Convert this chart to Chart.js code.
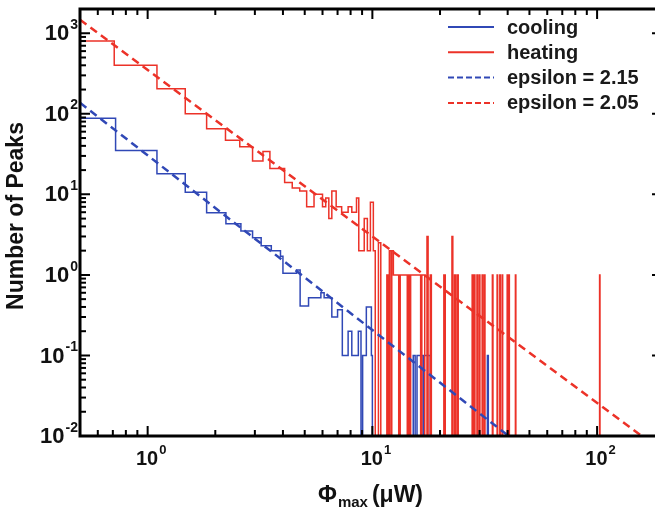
<!DOCTYPE html>
<html>
<head>
<meta charset="utf-8">
<script src="https://cdn.jsdelivr.net/npm/chart.js@4/dist/chart.umd.min.js"></script>
<style>
  body { margin: 0; background: #fff; }
  canvas { display: block; }
</style>
</head>
<body>
<canvas id="chart" width="655" height="511"></canvas>
<script>
// histogram steps: left edge of each step and its height (0 = empty bin)
const heatingX = [0.5, 0.71, 1.10, 1.47, 1.83, 2.22, 2.57, 2.93, 3.26, 3.5, 4.07, 4.4, 4.75, 5.1, 5.5, 6.0, 6.2, 6.4, 6.6, 6.9,
  7.3, 7.8, 8.1, 8.5, 8.7, 9.2, 9.5, 9.8, 10.1, 10.3, 10.64, 10.9, 11.6, 11.75, 11.9, 12.1, 12.2, 12.4, 13.1, 13.3,
  14.3, 14.45, 14.6, 14.8, 16.4, 16.6, 17.1, 17.5, 17.7, 18.1, 18.3, 20.8, 21.1, 22.6, 22.8, 23.2, 23.4, 23.8, 24.1,
  27.8, 28.0, 28.4, 28.6, 29.2, 29.4, 29.9, 30.1, 30.8, 31.0, 31.5, 31.7, 34.2, 34.4, 35.9, 36.1, 36.9, 37.1,
  37.8, 38.0, 39.8, 40.0, 40.5, 40.7, 43.3, 43.5, 102.6, 103, 200];
const heatingY = [800, 400, 205, 100, 65, 47, 39, 26, 34, 21, 14, 12, 11, 7, 10, 7, 9, 5, 11, 7,
  6, 7, 6, 9, 2, 5, 2, 8, 2, 0, 2.5, 0, 1, 0, 2, 0, 2, 1, 0, 1,
  0, 1, 0, 1, 0, 1, 0, 3, 0, 1, 0, 1, 0, 3, 0, 1, 0, 1, 0,
  1, 0, 1, 0, 1, 0, 1, 0, 1, 0, 1, 0, 1, 0, 1, 0, 1, 0,
  1, 0, 1, 0, 1, 0, 1, 0, 1, 0, 0];

const coolingX = [0.5, 0.72, 1.1, 1.47, 1.83, 2.23, 2.6, 2.93, 3.2, 3.55, 3.9, 4.0, 4.6, 4.77, 5.2, 5.9, 6.1, 6.6, 7.0,
  7.35, 7.8, 8.1, 8.66, 8.9, 9.05, 9.4, 9.9, 10.0, 15.2, 15.5, 15.8, 16.8, 17.0, 18.1, 32.5, 32.8, 200];
const coolingY = [88, 35, 18, 10.6, 5.9, 4.3, 3.5, 2.9, 2.3, 2.0, 1.7, 1.05, 1.15, 0.41, 0.52, 0.6, 0.52, 0.3, 0.37,
  0.1, 0.2, 0.1, 0.2, 0, 0.1, 0.4, 0.1, 0, 0.1, 0, 0.1, 0, 0.1, 0, 0.1, 0, 0];

// power-law fits, end points
const fitCoolX = [0.5, 40.4];
const fitCoolY = [137, 0.01];
const fitHeatX = [0.5, 158];
const fitHeatY = [1470, 0.01];

const seriesNames = ['cooling', 'heating', 'epsilon = 2.15', 'epsilon = 2.05'];
const xDecades = [0, 1, 2];
const yDecades = [-2, -1, 0, 1, 2, 3];

const X_MIN = 0.5, X_MAX = 181, Y_MIN = 0.01, Y_MAX = 2000;
const BLUE = 'rgb(48,72,182)';
const RED = 'rgb(236,50,40)';
const FONT = '"Liberation Sans", Arial, sans-serif';

const pts = (xs, ys) => xs.map((x, i) => ({ x, y: ys[i] > 0 ? ys[i] : Y_MIN }));

// axes frame, inward ticks, superscript labels, titles and legend
const decor = {
    id: 'decor',
    afterDraw(chart) {
        const { ctx, chartArea: a, scales: { x, y } } = chart;
        ctx.save();
        ctx.strokeStyle = '#000';
        ctx.fillStyle = '#111';

        // ticks
        ctx.lineWidth = 2;
        for (let d = -3; d <= 3; d++) {
            for (let m = 1; m <= 9; m++) {
                const v = m * Math.pow(10, d);
                const len = m === 1 ? 10 : 6;
                if (v >= X_MIN && v <= X_MAX) {
                    const px = x.getPixelForValue(v);
                    ctx.beginPath();
                    ctx.moveTo(px, a.bottom); ctx.lineTo(px, a.bottom - len);
                    ctx.moveTo(px, a.top); ctx.lineTo(px, a.top + len);
                    ctx.stroke();
                }
                if (v >= Y_MIN && v <= Y_MAX) {
                    const py = y.getPixelForValue(v);
                    ctx.beginPath();
                    ctx.moveTo(a.left, py); ctx.lineTo(a.left + len, py);
                    if (m === 1) { ctx.moveTo(a.right, py); ctx.lineTo(a.right - 3, py); }
                    ctx.stroke();
                }
            }
        }

        // frame
        ctx.lineWidth = 3;
        ctx.beginPath();
        ctx.moveTo(a.right, a.top); ctx.lineTo(a.left, a.top);
        ctx.lineTo(a.left, a.bottom); ctx.lineTo(a.right, a.bottom);
        ctx.stroke();

        // tick labels 10^n
        const sup = (px, py, exp, big, small, align) => {
            ctx.font = `bold ${big}px ${FONT}`;
            const w1 = ctx.measureText('10').width;
            ctx.font = `bold ${small}px ${FONT}`;
            const w2 = ctx.measureText(String(exp)).width;
            let x0 = align === 'right' ? px - w1 - w2 - 1 : px - (w1 + w2) / 2;
            ctx.textBaseline = 'middle';
            ctx.textAlign = 'left';
            ctx.font = `bold ${big}px ${FONT}`;
            ctx.fillText('10', x0, py);
            ctx.font = `bold ${small}px ${FONT}`;
            ctx.fillText(String(exp), x0 + w1 + 1, py - big * 0.42);
        };
        yDecades.forEach(e => sup(a.left - 2, y.getPixelForValue(Math.pow(10, e)) + 1, e, 22, 14, 'right'));
        xDecades.forEach(e => sup(x.getPixelForValue(Math.pow(10, e)) + 3, a.bottom + 23, e, 20, 13, 'center'));

        // y title
        ctx.save();
        ctx.translate(17, 216);
        ctx.rotate(-Math.PI / 2);
        ctx.font = `bold 23px ${FONT}`;
        ctx.textAlign = 'center';
        ctx.textBaseline = 'middle';
        ctx.fillText('Number of Peaks', 0, 0);
        ctx.restore();

        // x title: Φ_max (μW)
        ctx.textBaseline = 'alphabetic';
        ctx.textAlign = 'left';
        let tx = 318;
        ctx.font = `bold 23px ${FONT}`;
        ctx.fillText('Φ', tx, 502);
        tx += ctx.measureText('Φ').width + 1;
        ctx.font = `bold 15px ${FONT}`;
        ctx.fillText('max', tx, 507);
        tx += ctx.measureText('max').width + 4;
        ctx.font = `bold 23px ${FONT}`;
        ctx.fillText('(μW)', tx, 502);

        // legend
        const styles = [[BLUE, []], [RED, []], [BLUE, [6, 3]], [RED, [6, 3]]];
        ctx.font = `bold 20px ${FONT}`;
        ctx.textBaseline = 'middle';
        seriesNames.forEach((name, i) => {
            const ly = 27 + i * 25.3;
            ctx.strokeStyle = styles[i][0];
            ctx.setLineDash(styles[i][1]);
            ctx.lineWidth = 2;
            ctx.beginPath();
            ctx.moveTo(448, ly); ctx.lineTo(494, ly);
            ctx.stroke();
            ctx.setLineDash([]);
            ctx.fillStyle = '#1a1a1a';
            ctx.fillText(name, 507, ly + 1);
        });
        ctx.restore();
    }
};

new Chart(document.getElementById('chart'), {
    type: 'line',
    data: {
        datasets: [
            { label: seriesNames[2], data: pts(fitCoolX, fitCoolY), borderColor: BLUE, borderWidth: 2.5, borderDash: [8, 5] },
            { label: seriesNames[3], data: pts(fitHeatX, fitHeatY), borderColor: RED, borderWidth: 2.5, borderDash: [8, 5] },
            { label: seriesNames[1], data: pts(heatingX, heatingY), borderColor: RED, borderWidth: 1.5, stepped: 'before' },
            { label: seriesNames[0], data: pts(coolingX, coolingY), borderColor: BLUE, borderWidth: 1.5, stepped: 'before' },
        ]
    },
    options: {
        responsive: false,
        animation: false,
        devicePixelRatio: 1,
        layout: { padding: { left: 80, right: 0, top: 9, bottom: 75 } },
        elements: { point: { radius: 0 }, line: { tension: 0 } },
        plugins: { legend: { display: false }, tooltip: { enabled: false } },
        scales: {
            x: { type: 'logarithmic', min: X_MIN, max: X_MAX, display: false },
            y: { type: 'logarithmic', min: Y_MIN, max: Y_MAX, display: false }
        }
    },
    plugins: [decor]
});
</script>
</body>
</html>
